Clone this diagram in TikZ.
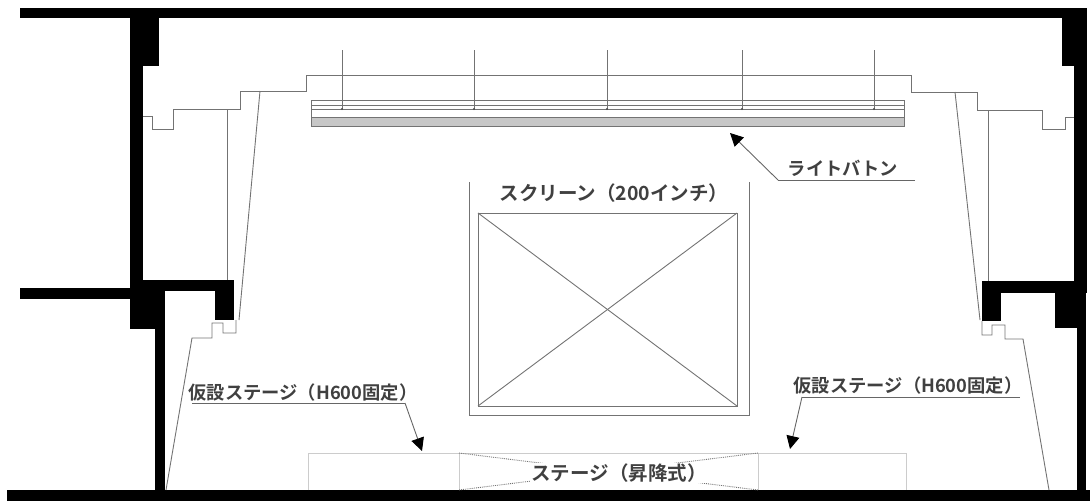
\documentclass[tikz,border=0pt]{standalone}
\usepackage{fontspec}
\usetikzlibrary{arrows.meta}
\newfontfamily\cjk[BoldFont={Noto Sans CJK JP Bold}]{Noto Sans CJK JP}
\begin{document}
\begin{tikzpicture}[
        x=1pt, y=-1pt,
        wall/.style={fill=black, draw=none},
        thinline/.style={draw=black!55, line width=0.9pt},
        faint/.style={draw=black!20, line width=0.8pt},
        dotline/.style={draw=black!55, line width=0.9pt, densely dotted},
        leader/.style={draw=black!60, line width=0.9pt},
        arrow/.style={leader, -{Triangle[length=13pt, width=13pt, black]}},
        label/.style={font=\cjk\bfseries\fontsize{18.3}{18.3}\selectfont, text=black!75, inner sep=0pt},
        biglabel/.style={font=\cjk\bfseries\fontsize{19.5}{19.5}\selectfont, text=black!75, inner sep=0pt}
    ]
    \useasboundingbox (0,0) rectangle (1090,501);

    % walls
    \fill[wall] (20,8) rectangle (1087,18);
    \fill[wall] (130,18) rectangle (143,280);
    \fill[wall] (130,18) rectangle (159,66);
    \fill[wall] (20,288) rectangle (130,299);
    \fill[wall] (130,280) rectangle (234,291);
    \fill[wall] (130,291) rectangle (155,329);
    \fill[wall] (155,291) rectangle (165,490);
    \fill[wall] (215,291) rectangle (234,320);
    \fill[wall] (7,490) rectangle (1090,501);
    \fill[wall] (1062,18) rectangle (1087,66);
    \fill[wall] (1074,66) rectangle (1087,281);
    \fill[wall] (982,281) rectangle (1087,293);
    \fill[wall] (1055,293) rectangle (1077,328);
    \fill[wall] (1077,293) rectangle (1086,501);
    \fill[wall] (982,293) rectangle (1001,321);

    % ceiling
    \draw[thinline] (143,116) -- (152,116) -- (152,129) -- (173,129) -- (173,109) -- (240,109)
        -- (240,91) -- (306,91) -- (306,75) -- (911,75) -- (911,92) -- (977,92) -- (977,110)
        -- (1042,110) -- (1042,129) -- (1065,129) -- (1065,117) -- (1074,117);
    \draw[thinline] (227,109) -- (227,280);
    \draw[thinline] (260,91) -- (239,320);
    \draw[thinline] (988,110) -- (988,281);
    \draw[thinline] (955,92) -- (980,320);

    % side steps
    \draw[thinline] (166,490) -- (192,338) -- (212,338) -- (212,323) -- (223,323) -- (223,333)
        -- (236,333) -- (236,320);
    \draw[thinline] (982,321) -- (982,335) -- (992,335) -- (992,325) -- (1005,325) -- (1005,339)
        -- (1023,339) -- (1049,490);

    % light batten
    \fill[black!22] (311,117) rectangle (904,126);
    \draw[thinline] (311,100) rectangle (904,109);
    \draw[thinline] (311,105) -- (904,105);
    \draw[thinline] (311,109) rectangle (904,126);
    \draw[thinline] (311,117) -- (904,117);
    \foreach \x in {342,474,607,742,874} {
        \draw[thinline] (\x,50) -- (\x,109);
        \fill[black!70] (\x,109) circle (1.2pt);
    }

    % screen
    \draw[thinline] (469,182) -- (469,415) -- (749,415) -- (749,182);
    \draw[thinline] (478,213) rectangle (737,406);
    \draw[thinline] (478,213) -- (737,406);
    \draw[thinline] (737,213) -- (478,406);

    % stage
    \draw[faint] (308,490) -- (308,453) -- (906,453) -- (906,490);
    \draw[faint] (459,453) -- (459,490);
    \draw[faint] (758,453) -- (758,490);
    \draw[dotline] (459,453) -- (758,490);
    \draw[dotline] (758,453) -- (459,490);

    % labels
    \node[biglabel] (screenlbl) at (614,193) {スクリーン（200インチ）};
    \node[label] (battenlbl) at (843,168) {ライトバトン};
    \node[label] (leftlbl) at (303,393) {仮設ステージ（H600固定）};
    \node[label] (rightlbl) at (908,386) {仮設ステージ（H600固定）};
    \node[biglabel, fill=white, inner sep=1pt] (stagelbl) at (619,473) {ステージ（昇降式）};

    % leaders
    \coordinate (battenfoot) at (778,180);
    \coordinate (battenend) at (915,180);
    \coordinate (battentip) at (730,133);
    \coordinate (leftstart) at (192,403);
    \coordinate (leftfoot) at (405,403);
    \coordinate (lefttip) at (422,451);
    \coordinate (rightend) at (1020,397);
    \coordinate (rightfoot) at (802,397);
    \coordinate (righttip) at (790,449);
    \draw[leader] (battenend) -- (battenfoot);
    \draw[arrow] (battenfoot) -- (battentip);
    \draw[leader] (leftstart) -- (leftfoot);
    \draw[arrow] (leftfoot) -- (lefttip);
    \draw[leader] (rightend) -- (rightfoot);
    \draw[arrow] (rightfoot) -- (righttip);

\end{tikzpicture}
\end{document}
